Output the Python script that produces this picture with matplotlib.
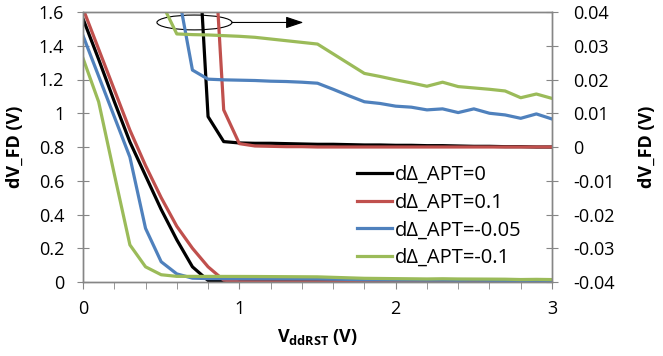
import numpy as np
import matplotlib.pyplot as plt
from matplotlib.patches import Ellipse
from matplotlib.ticker import MultipleLocator, FuncFormatter

plt.rcParams['font.family'] = ['Open Sans', 'DejaVu Sans']
plt.rcParams['axes.unicode_minus'] = False
plt.rcParams['mathtext.fontset'] = 'custom'
plt.rcParams['mathtext.rm'] = 'Open Sans'
plt.rcParams['mathtext.bf'] = 'Open Sans:bold'

# V_ddRST sweep (V)
vddrst = [0.0, 0.1, 0.2, 0.3, 0.4, 0.5, 0.6, 0.7, 0.8, 0.9,
          1.0, 1.1, 1.2, 1.3, 1.4, 1.5, 1.6, 1.7, 1.8, 1.9,
          2.0, 2.1, 2.2, 2.3, 2.4, 2.5, 2.6, 2.7, 2.8, 2.9, 3.0]

# dV_FD (V) for each dDelta_APT
dv_0 = [1.56, 1.32, 1.07, 0.83, 0.63, 0.43, 0.25, 0.09, 0.009, 0.0016,
        0.0012, 0.0011, 0.0011, 0.0010, 0.0009, 0.0008, 0.0008, 0.0007, 0.0006, 0.0006,
        0.0005, 0.0005, 0.0004, 0.0004, 0.0003, 0.0002, 0.0002, 0.0001, 0.0001, 0.0, 0.0]
dv_p01 = [1.62, 1.38, 1.14, 0.90, 0.69, 0.50, 0.33, 0.20, 0.09, 0.011,
          0.001, 0.0003, 0.0002, 0.0001, 0.0001, 0.0, 0.0, 0.0, 0.0, 0.0,
          0.0, 0.0, 0.0, 0.0, 0.0, 0.0, 0.0, 0.0, 0.0, 0.0, 0.0]
dv_m005 = [1.46, 1.22, 0.98, 0.74, 0.318, 0.12, 0.048, 0.0228, 0.0201, 0.0199,
           0.0198, 0.0197, 0.0195, 0.0194, 0.0192, 0.0189, 0.0171, 0.0152, 0.0134, 0.0129,
           0.0121, 0.0118, 0.0110, 0.0113, 0.0102, 0.0113, 0.0100, 0.0095, 0.0085, 0.0098, 0.0083]
dv_m01 = [1.326, 1.068, 0.64, 0.22, 0.09, 0.043, 0.0335, 0.0333, 0.0332, 0.0330,
          0.0328, 0.0325, 0.0320, 0.0315, 0.0310, 0.0305, 0.0276, 0.0247, 0.0218, 0.0209,
          0.0199, 0.0190, 0.0180, 0.0192, 0.0179, 0.0175, 0.0171, 0.0166, 0.0146, 0.0157, 0.0144]

series = [dv_0, dv_p01, dv_m005, dv_m01]
labels = ['d\u0394_APT=0', 'd\u0394_APT=0.1', 'd\u0394_APT=-0.05', 'd\u0394_APT=-0.1']
colors = ['#000000', '#C0504D', '#4F81BD', '#9BBB59']

W, H = 663, 356
fs = 13
fig = plt.figure(figsize=(W / 100, H / 100), dpi=100)
ax = fig.add_axes([83 / W, 1 - 282 / H, (552 - 83) / W, (282 - 12) / H])
ax2 = ax.twinx()

# same data on both scales: left shows full range, right zooms near zero
for y, lab, c in zip(series, labels, colors):
    ax.plot(vddrst, y, color=c, lw=2.3)
    ax2.plot(vddrst, y, color=c, lw=2.3, label=lab)

ax.set_xlim(0, 3)
ax.set_ylim(0, 1.6)
ax2.set_ylim(-0.04, 0.04)

ax.xaxis.set_major_locator(MultipleLocator(1))
ax.xaxis.set_minor_locator(MultipleLocator(0.2))
ax.yaxis.set_major_locator(MultipleLocator(0.2))
ax2.yaxis.set_major_locator(MultipleLocator(0.01))
ax.yaxis.set_major_formatter(FuncFormatter(lambda v, p: f'{round(v, 1):g}'))
ax2.yaxis.set_major_formatter(FuncFormatter(lambda v, p: '0' if abs(v) < 1e-9 else f'{round(v, 2):g}'))

gc = '#868686'
for a in (ax, ax2):
    for s in a.spines.values():
        s.set_color(gc)
        s.set_linewidth(1)
ax.tick_params(axis='x', which='both', direction='out', length=5, color=gc,
               labelsize=fs, pad=8)
ax.tick_params(axis='y', direction='inout', length=9, color=gc, labelsize=fs, pad=9)
ax2.tick_params(axis='y', direction='inout', length=9, color=gc, labelsize=fs, pad=11)

ax.set_xlabel(r'$\mathbf{V_{ddRST}}$ (V)', fontsize=fs, fontweight='bold')
ax.xaxis.set_label_coords(0.5, -(327 - 282) / 270)
ax.set_ylabel('dV_FD (V)', fontsize=fs, fontweight='bold')
ax.yaxis.set_label_coords((24 - 83) / 469, 0.5)
ax2.set_ylabel('dV_FD (V)', fontsize=fs, fontweight='bold')
ax2.yaxis.set_label_coords((638 - 83) / 469, 0.5)

# ellipse + arrow marking the curves that belong to the right axis
ax2.add_patch(Ellipse((0.713, 0.0369), 0.48, 0.0044, fill=False, ec='black', lw=0.8))
ax2.annotate('', xy=(1.41, 0.0369), xytext=(0.953, 0.0369),
             arrowprops=dict(arrowstyle='-|>,head_length=0.72,head_width=0.24',
                             color='black', lw=0.8, mutation_scale=15,
                             shrinkA=0, shrinkB=0))

ax2.legend(loc='upper left', bbox_to_anchor=(357 / W, 1 - 165 / H),
           bbox_transform=fig.transFigure, frameon=False, fontsize=14.5,
           handlelength=1.75, handletextpad=0.12, labelspacing=0.38, borderpad=0,
           borderaxespad=0)

fig.savefig('out.png', dpi=100)
